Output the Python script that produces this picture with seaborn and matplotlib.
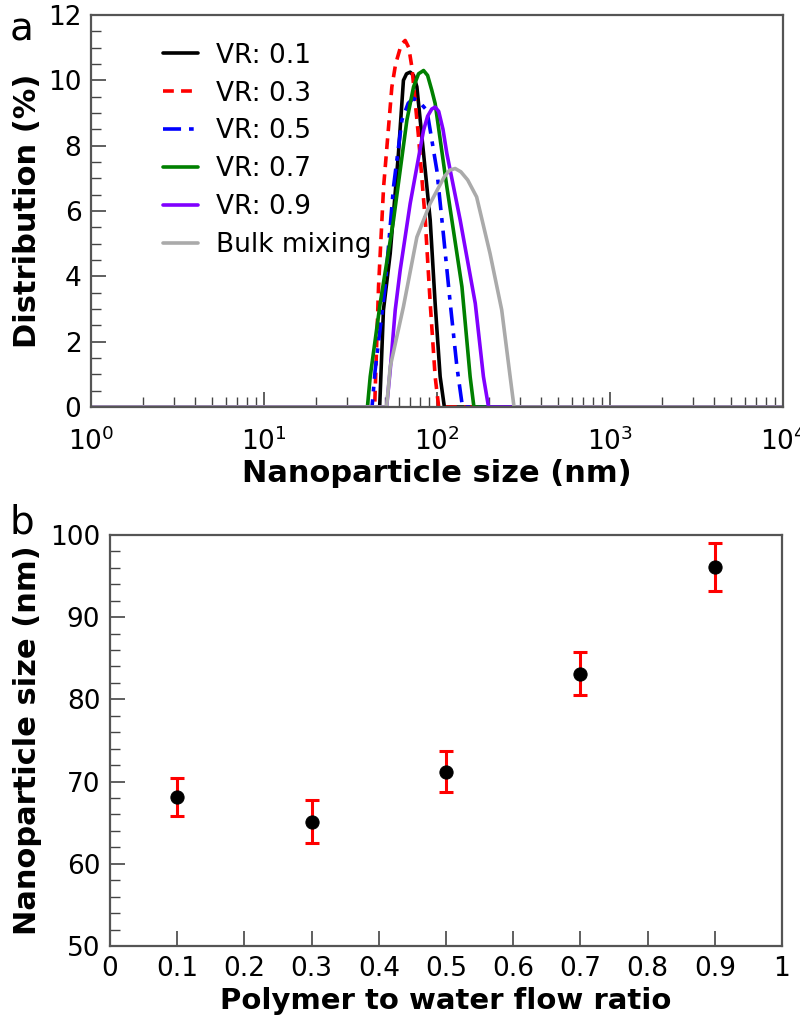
import numpy as np
import pandas as pd
import matplotlib
matplotlib.use("Agg")
import matplotlib.pyplot as plt
import seaborn as sns
from matplotlib.ticker import LogLocator, MultipleLocator, FuncFormatter, NullFormatter

# panel a: size distributions (x in nm, y in %)
vr01_x = [1, 46.5, 48.9, 53.5, 59.7, 63.8, 66.5, 69.8, 73, 76.3, 83.4, 91.1, 97.3, 104, 110, 10000]
vr01_y = [0, 0, 2.97, 4.7, 7.76, 10.0, 10.2, 10.25, 10.15, 9.8, 7.76, 5.72, 3.17, 0.93, 0, 0]
vr03_x = [1, 43.5, 45.8, 49, 54.7, 57.5, 62, 65.3, 68.5, 71.4, 78, 85.3, 91.1, 97.3, 102, 10000]
vr03_y = [0, 0, 3.68, 6.74, 9.8, 10.5, 11.1, 11.22, 11.0, 10.4, 8.27, 5.72, 3.18, 0.93, 0, 0]
vr05_x = [1, 42, 43.8, 50, 55.9, 62.5, 68, 73, 80, 87.2, 99.5, 109, 119, 130, 140, 10000]
vr05_y = [0, 0, 1.13, 3.68, 6.74, 8.78, 9.3, 9.45, 9.3, 9.08, 7.25, 5.2, 3.17, 1.23, 0, 0]
vr07_x = [1, 39.5, 41, 46.8, 55.9, 66.8, 73, 78, 83.4, 88, 93, 97.3, 113.7, 139, 155, 163, 10000]
vr07_y = [0, 0, 0.93, 3.17, 5.72, 8.78, 9.8, 10.2, 10.3, 10.15, 9.7, 9.29, 6.74, 3.68, 0.93, 0, 0]
vr09_x = [1, 51, 53.5, 57.2, 61.1, 69.8, 83.4, 88, 93, 97.3, 102, 108, 113.7, 135.8, 166, 185, 198, 10000]
vr09_y = [0, 0, 1.13, 2.97, 4.19, 6.23, 8.47, 8.9, 9.12, 9.18, 9.05, 8.5, 7.76, 5.72, 3.17, 0.93, 0, 0]
bulk_x = [1, 51, 53.5, 63.8, 76.3, 91, 110, 118, 127, 137, 150, 169, 202, 236, 264, 278, 10000]
bulk_y = [0, 0, 1.23, 3.07, 5.2, 6.23, 7.05, 7.25, 7.3, 7.2, 6.95, 6.43, 4.7, 2.97, 0.93, 0, 0]

# panel b: mean size vs flow ratio
ratio = [0.1, 0.3, 0.5, 0.7, 0.9]
size_nm = [68.1, 65.1, 71.2, 83.1, 96.1]
size_err = [2.3, 2.6, 2.5, 2.6, 2.9]

sns.set_theme(style="white")
plt.rcParams['font.family'] = ['DejaVu Sans']
plt.rcParams['text.color'] = 'black'
plt.rcParams['axes.labelcolor'] = 'black'
plt.rcParams['xtick.color'] = 'black'
plt.rcParams['ytick.color'] = 'black'

fig = plt.figure(figsize=(8, 10.33), dpi=100)
ax1 = fig.add_axes([0.114, 0.606, 0.865, 0.3795])
ax2 = fig.add_axes([0.1375, 0.0842, 0.84, 0.398])

series = [
    ("VR: 0.1", vr01_x, vr01_y, "black", "-"),
    ("VR: 0.3", vr03_x, vr03_y, "red", (0, (3, 2))),
    ("VR: 0.5", vr05_x, vr05_y, "blue", (0, (5, 2.2, 1.3, 2.2))),
    ("VR: 0.7", vr07_x, vr07_y, "#008000", "-"),
    ("VR: 0.9", vr09_x, vr09_y, "#8000ff", "-"),
    ("Bulk mixing", bulk_x, bulk_y, "#aaaaaa", "-"),
]
for name, xs, ys, col, ls in series:
    sns.lineplot(x=xs, y=ys, ax=ax1, color=col, linestyle=ls, linewidth=2.6,
                 label=name, sort=False, estimator=None)

ax1.set_xscale("log")
ax1.set_xlim(1, 10000)
ax1.set_ylim(0, 12)
ax1.yaxis.set_major_locator(MultipleLocator(2))
ax1.yaxis.set_minor_locator(MultipleLocator(0.5))
ax1.xaxis.set_major_locator(LogLocator(base=10, numticks=10))
ax1.xaxis.set_minor_locator(LogLocator(base=10, subs=np.arange(2, 10), numticks=20))
ax1.xaxis.set_minor_formatter(NullFormatter())
ax1.set_xlabel("Nanoparticle size (nm)", fontsize=22, fontweight="bold", labelpad=2)
ax1.set_ylabel("Distribution (%)", fontsize=22, fontweight="bold", labelpad=4)
ax1.legend(loc="upper left", bbox_to_anchor=(0.07, 0.99), frameon=False,
           fontsize=19, handlelength=1.3, labelspacing=0.45, handletextpad=0.7)

sns.scatterplot(x=ratio, y=size_nm, ax=ax2, color="black", s=90, zorder=3,
                edgecolor="black")
ax2.errorbar(ratio, size_nm, yerr=size_err, fmt="none", ecolor="red",
             elinewidth=2.2, capsize=5, capthick=2.2, zorder=2)
ax2.set_xlim(0, 1)
ax2.set_ylim(50, 100)
ax2.xaxis.set_major_locator(MultipleLocator(0.1))
ax2.xaxis.set_major_formatter(FuncFormatter(lambda v, p: "{:g}".format(round(v, 2))))
ax2.yaxis.set_major_locator(MultipleLocator(10))
ax2.yaxis.set_minor_locator(MultipleLocator(2))
ax2.set_xlabel("Polymer to water flow ratio", fontsize=21, fontweight="bold", labelpad=4)
ax2.set_ylabel("Nanoparticle size (nm)", fontsize=22, fontweight="bold", labelpad=6)

for ax in (ax1, ax2):
    ax.tick_params(which="major", direction="in", length=11, width=1.2,
                   labelsize=19, color="#444444", bottom=True, left=True,
                   top=False, right=False, pad=7)
    ax.tick_params(which="minor", direction="in", length=7, width=1.0,
                   color="#444444", bottom=True, left=True, top=False, right=False)
    for sp in ax.spines.values():
        sp.set_color("#555555")
        sp.set_linewidth(1.6)
ax1.tick_params(axis="x", which="major", pad=15)

fig.text(0.012, 0.99, "a", fontsize=28, va="top")
fig.text(0.012, 0.513, "b", fontsize=28, va="top")

fig.savefig("out.png", dpi=100)
